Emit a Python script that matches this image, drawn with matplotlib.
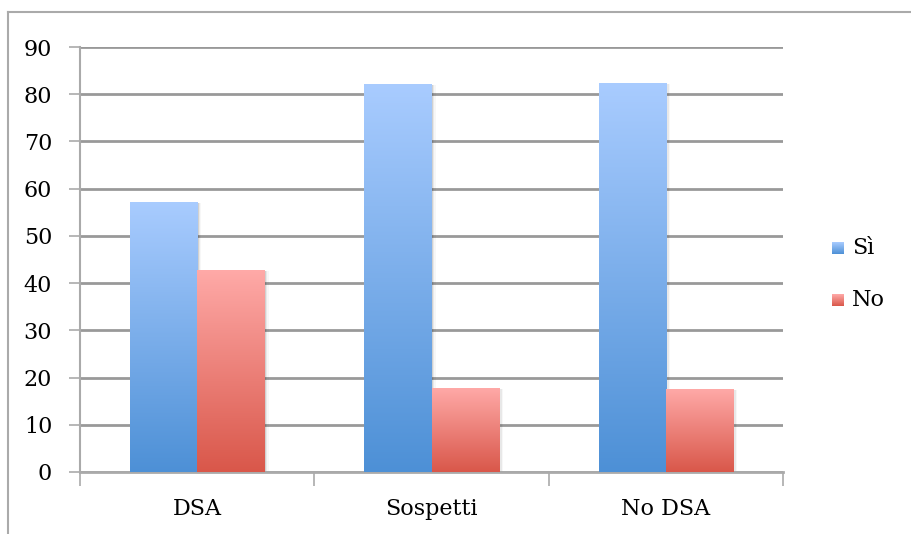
import numpy as np
import matplotlib
matplotlib.use("Agg")
import matplotlib.pyplot as plt
from matplotlib.colors import LinearSegmentedColormap
from matplotlib.patches import Rectangle

categories = ["DSA", "Sospetti", "No DSA"]
si_values = [57.2, 82.2, 82.4]
no_values = [42.8, 17.8, 17.6]
series_names = ["Sì", "No"]
y_ticks = [0, 10, 20, 30, 40, 50, 60, 70, 80, 90]

plt.rcParams["font.family"] = ["DejaVu Serif"]
FS = 16

fig = plt.figure(figsize=(9.11, 5.34), dpi=100)
ax = fig.add_axes([80 / 911, 1 - 472 / 534, 703 / 911, 425 / 534])

blue_cmap = LinearSegmentedColormap.from_list("blue_grad", ["#4d90d6", "#a9ccff"])
red_cmap = LinearSegmentedColormap.from_list("red_grad", ["#d9574a", "#ffaaa8"])

x = np.arange(len(categories))
width = 0.287
grad = np.linspace(0, 1, 256).reshape(-1, 1)

def gradient_bars(positions, values, cmap):
    bars = ax.bar(positions, values, width, color="none", edgecolor="none", zorder=3)
    for b in bars:
        x0, y0 = b.get_x(), b.get_y()
        w, h = b.get_width(), b.get_height()
        # soft shadow to the right of each bar
        for k, a in enumerate([0.10, 0.06, 0.03]):
            sh = Rectangle((x0 + w, y0), 0.006 * (k + 1), h - 0.3, color="black",
                           alpha=a, lw=0, zorder=2.5)
            ax.add_patch(sh)
        im = ax.imshow(grad, cmap=cmap, aspect="auto", origin="lower",
                       extent=(x0, x0 + w, y0, y0 + h), zorder=3)
        im.set_clip_path(b)
    return bars

gradient_bars(x - width / 2, si_values, blue_cmap)
gradient_bars(x + width / 2, no_values, red_cmap)

ax.set_xlim(-0.5, len(categories) - 0.5)
ax.set_ylim(0, 90)
ax.set_yticks(y_ticks)
ax.yaxis.grid(True, color="#999999", linewidth=2, zorder=1)
ax.set_axisbelow(True)

ax.set_xticks(x)
ax.set_xticklabels(categories, fontsize=FS)
ax.set_xticks(np.arange(len(categories) + 1) - 0.5, minor=True)
ax.tick_params(axis="x", which="major", length=0, pad=19)
ax.tick_params(axis="x", which="minor", length=10, width=1.2, color="#aaaaaa")
ax.tick_params(axis="y", length=8, width=1.2, color="#aaaaaa", labelsize=FS, pad=12)

for side in ["top", "right"]:
    ax.spines[side].set_visible(False)
ax.spines["left"].set_color("#aaaaaa")
ax.spines["left"].set_linewidth(1.5)
ax.spines["bottom"].set_color("#aaaaaa")
ax.spines["bottom"].set_linewidth(2)

# Legend with gradient swatches
for i, (name, cmap) in enumerate([(series_names[0], blue_cmap), (series_names[1], red_cmap)]):
    yc = 1 - (248 + i * 52) / 534
    sw = fig.add_axes([832 / 911, yc - 6 / 534, 12 / 911, 12 / 534])
    sw.imshow(grad, cmap=cmap, aspect="auto", origin="lower")
    sw.set_axis_off()
    fig.text(852 / 911, yc, name, fontsize=FS, va="center", ha="left")

# Outer chart frame
fig.add_artist(plt.Line2D([8 / 911, 8 / 911], [0, 1 - 12 / 534], color="#aaaaaa",
                          linewidth=1.5, transform=fig.transFigure))
fig.add_artist(plt.Line2D([8 / 911, 1], [1 - 12 / 534, 1 - 12 / 534], color="#aaaaaa",
                          linewidth=1.5, transform=fig.transFigure))

fig.savefig("out.png", dpi=100)
